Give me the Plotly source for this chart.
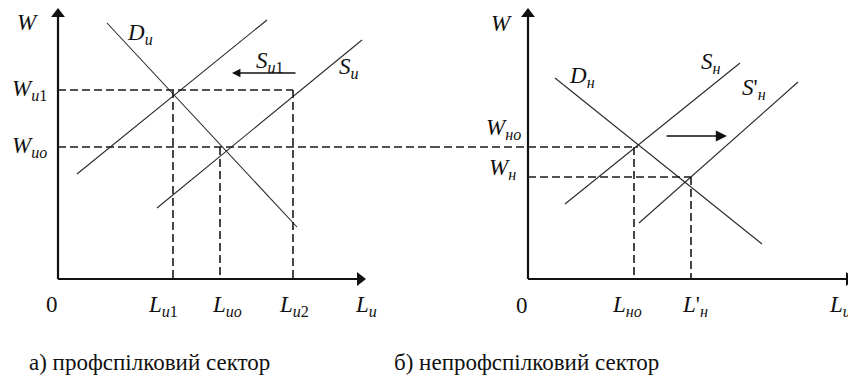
import plotly.graph_objects as go

# ---------------- data (wage W vs labour L) ----------------
# Left panel: union sector
Du_L = [49, 239];  Du_W = [256, 52]      # demand D_u
Su1_L = [19, 209]; Su1_W = [105, 259]    # shifted supply S_u1
Su_L = [99, 304];  Su_W = [71, 239]      # supply S_u
W_u1, W_uo = 189, 132
L_u1, L_uo, L_u2 = 115, 162, 235
shiftL_from, shiftL_to, shiftL_W = 239, 174, 206

# Right panel: non-union sector
Dn_L = [27, 234];   Dn_W = [201, 35]     # demand D_n
Sn_L = [37, 212];   Sn_W = [75, 216]     # supply S_n
Sn2_L = [111, 270]; Sn2_W = [56, 197]    # shifted supply S'_n
W_no, W_n = 132, 102
L_no, L_n2 = 106, 163
shiftR_from, shiftR_to, shiftR_W = 137, 199, 143

AX_L_LEFT, AX_W_TOP = 308, 271
AX_L_RIGHT = 327

captions = ["а) профспілковий сектор", "б) непрофспілковий сектор"]

# ---------------- figure ----------------
FONT = "Liberation Serif"
CURVE = dict(color="#2a2a2a", width=1.1)
DASH = dict(color="#1a1a1a", width=1.6, dash="8px,4px")
AXIS = dict(color="#111", width=2.2)

fig = go.Figure()

def seg(x, y, line, ax="x", ay="y"):
    fig.add_trace(go.Scatter(x=x, y=y, mode="lines", line=line,
                             xaxis=ax, yaxis=ay, hoverinfo="skip", showlegend=False))

def head(x, y, sym, ax="x", ay="y"):
    fig.add_trace(go.Scatter(x=[x], y=[y], mode="markers", cliponaxis=False,
                             marker=dict(symbol=sym, size=12, color="#111", line=dict(width=0)),
                             xaxis=ax, yaxis=ay, hoverinfo="skip", showlegend=False))

# axes (drawn as lines with arrow heads)
seg([0, 0], [0, AX_W_TOP - 6], AXIS)
seg([0, AX_L_LEFT - 6], [0, 0], AXIS)
head(0, AX_W_TOP - 6, "triangle-up")
head(AX_L_LEFT - 6, 0, "triangle-right")
seg([0, 0], [0, AX_W_TOP - 6], AXIS, "x2", "y2")
seg([0, AX_L_RIGHT - 6], [0, 0], AXIS, "x2", "y2")
head(0, AX_W_TOP - 6, "triangle-up", "x2", "y2")
head(AX_L_RIGHT - 6, 0, "triangle-right", "x2", "y2")

# left curves
seg(Du_L, Du_W, CURVE)
seg(Su1_L, Su1_W, CURVE)
seg(Su_L, Su_W, CURVE)
# left dashed guides
seg([0, L_u2], [W_u1, W_u1], DASH)
seg([0, 400], [W_uo, W_uo], DASH)
seg([L_u1, L_u1], [W_u1, 0], DASH)
seg([L_uo, L_uo], [W_uo, 0], DASH)
seg([L_u2, L_u2], [W_u1, 0], DASH)

# right curves
seg(Dn_L, Dn_W, CURVE, "x2", "y2")
seg(Sn_L, Sn_W, CURVE, "x2", "y2")
seg(Sn2_L, Sn2_W, CURVE, "x2", "y2")
# right dashed guides
seg([-120, L_no + 4], [W_no, W_no], DASH, "x2", "y2")
seg([0, L_n2], [W_n, W_n], DASH, "x2", "y2")
seg([L_no, L_no], [W_no, 0], DASH, "x2", "y2")
seg([L_n2, L_n2], [W_n, 0], DASH, "x2", "y2")

ann = []

def arrow(x, y, ax_, ay_, xr="x", yr="y", w=2.0, hd=2, size=1.0):
    ann.append(dict(x=x, y=y, ax=ax_, ay=ay_, xref=xr, yref=yr, axref=xr, ayref=yr,
                    showarrow=True, arrowhead=hd, arrowsize=size, arrowwidth=w,
                    arrowcolor="#111", text="", standoff=0))

# shift arrows
arrow(shiftL_to, shiftL_W, shiftL_from, shiftL_W, w=1.3, hd=2, size=1.3)
arrow(shiftR_to, shiftR_W, shiftR_from, shiftR_W, "x2", "y2", w=1.6, hd=2, size=1.4)

def label(x, y, text, xr="x", yr="y", size=23, xa="center", ya="middle"):
    ann.append(dict(x=x, y=y, xref=xr, yref=yr, text=text, showarrow=False,
                    xanchor=xa, yanchor=ya,
                    font=dict(family=FONT, size=size, color="#111")))

# left labels
label(-31, 257, "<i>W</i>")
label(-9, W_u1, "<i>W</i><sub><i>и</i>1</sub>", xa="right")
label(-9, W_uo, "<i>W</i><sub><i>ио</i></sub>", xa="right")
label(82, 245, "<i>D</i><sub><i>и</i></sub>")
label(212, 217, "<i>S</i><sub><i>и</i>1</sub>")
label(291, 211, "<i>S</i><sub><i>и</i></sub>")
label(-6, -25, "0")
label(L_u1 - 27, -27, "<i>L</i><sub><i>и</i>1</sub>", xa="left")
label(L_uo - 10, -27, "<i>L</i><sub><i>ио</i></sub>", xa="left")
label(L_u2 - 16, -27, "<i>L</i><sub><i>и</i>2</sub>", xa="left")
label(295, -27, "<i>L</i><sub><i>и</i></sub>", xa="left")

# right labels
label(-27, 256, "<i>W</i>", "x2", "y2")
label(-5, 150, "<i>W</i><sub><i>но</i></sub>", "x2", "y2", xa="right")
label(-10, W_n + 8, "<i>W</i><sub><i>н</i></sub>", "x2", "y2", xa="right")
label(54, 202, "<i>D</i><sub><i>н</i></sub>", "x2", "y2")
label(183, 216, "<i>S</i><sub><i>н</i></sub>", "x2", "y2")
label(226, 190, "<i>S</i>'<sub><i>н</i></sub>", "x2", "y2")
label(-6, -26, "0", "x2", "y2")
label(L_no - 24, -27, "<i>L</i><sub><i>но</i></sub>", "x2", "y2", xa="left")
label(L_n2 - 11, -27, "<i>L</i>'<sub><i>н</i></sub>", "x2", "y2", xa="left")
label(299, -27, "<i>L</i><sub><i>и</i></sub>", "x2", "y2", xa="left")

# captions (page has an 8px body margin; compensate)
for cx, txt in zip([(27 - 8) / 856, (392 - 8) / 856], captions):
    ann.append(dict(x=cx, y=(385 - (362 - 8)) / 385, xref="paper", yref="paper", text=txt,
                    showarrow=False, xanchor="left", yanchor="middle",
                    font=dict(family=FONT, size=23, color="#111")))

hidden = dict(showgrid=False, zeroline=False, showticklabels=False, ticks="",
              showline=False, fixedrange=True)

fig.update_layout(
    width=856, height=385,
    margin=dict(l=0, r=0, t=0, b=0),
    paper_bgcolor="white", plot_bgcolor="white",
    xaxis=dict(domain=[0, 0.5], range=[-50, 378], **hidden),
    yaxis=dict(domain=[0, 1], range=[-114, 271], **hidden),
    xaxis2=dict(domain=[0.5, 1], range=[-92, 336], anchor="y2", **hidden),
    yaxis2=dict(domain=[0, 1], range=[-114, 271], anchor="x2", **hidden),
    annotations=ann,
    showlegend=False,
)

fig.write_html("out.html")
